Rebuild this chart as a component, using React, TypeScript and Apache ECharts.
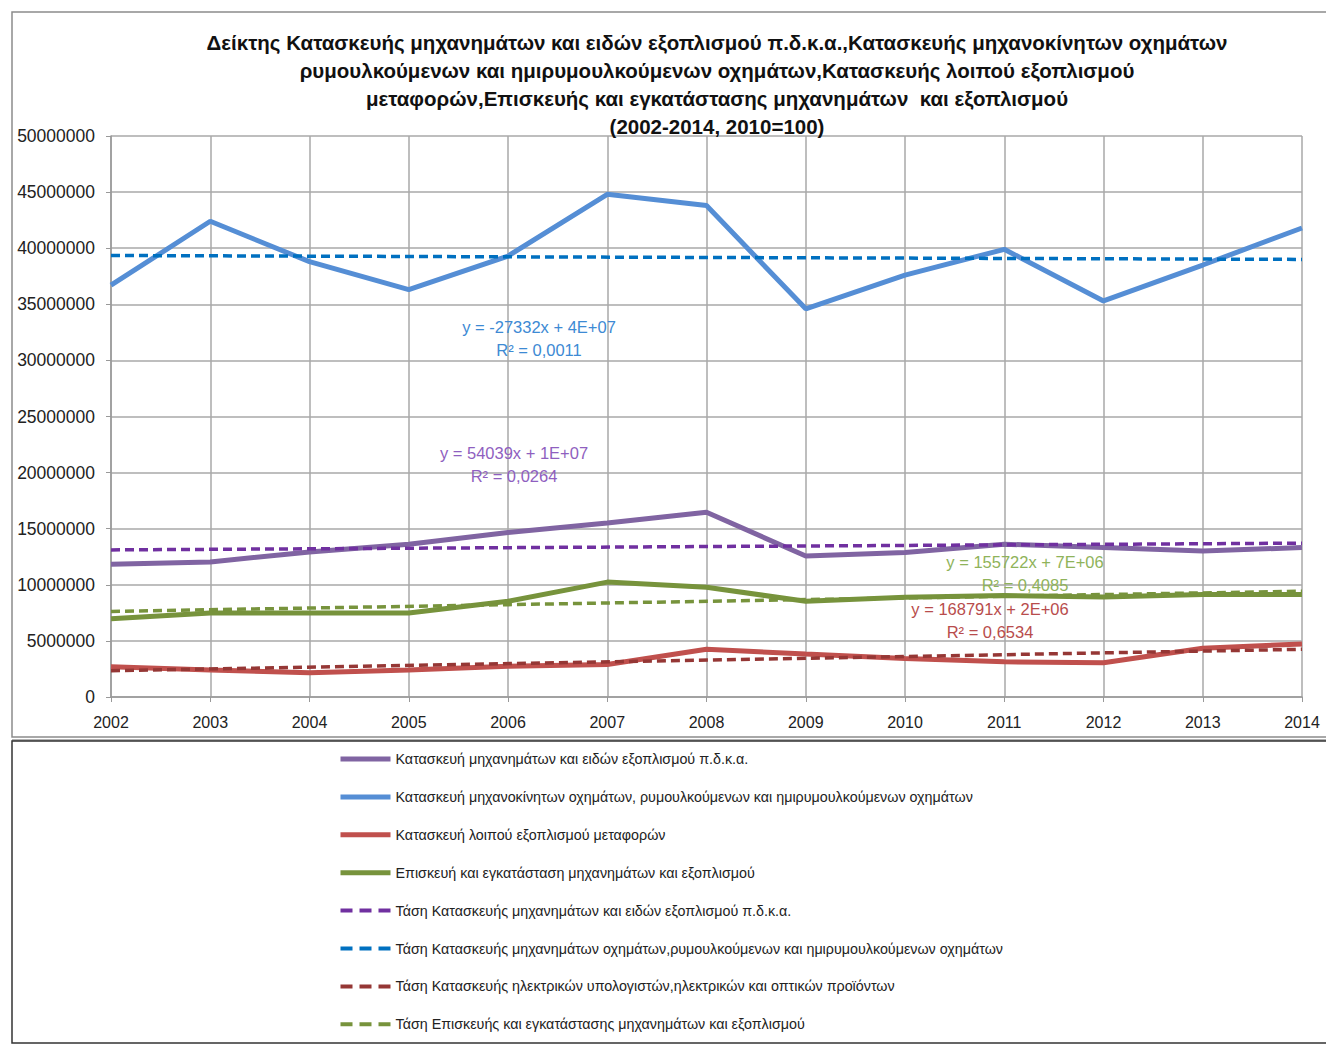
import React, { useEffect, useRef } from "react";
import * as echarts from "echarts";

const years = [2002, 2003, 2004, 2005, 2006, 2007, 2008, 2009, 2010, 2011, 2012, 2013, 2014];
const yTicks = { min: 0, max: 50000000, interval: 5000000 };

const machinery = [11.83, 12.04, 12.93, 13.62, 14.67, 15.51, 16.47, 12.57, 12.87, 13.62, 13.32, 13.02, 13.32];
const vehicles = [36.7, 42.4, 38.8, 36.3, 39.3, 44.8, 43.8, 34.6, 37.6, 39.9, 35.3, 38.5, 41.8];
const transport = [2.69, 2.4, 2.16, 2.4, 2.75, 2.9, 4.26, 3.83, 3.44, 3.14, 3.05, 4.34, 4.73];
const repair = [6.98, 7.49, 7.49, 7.49, 8.53, 10.24, 9.78, 8.53, 8.89, 9.04, 8.92, 9.13, 9.13];

// trend line endpoints (2002, 2014), millions
const trendMachinery = [13.11, 13.71];
const trendVehicles = [39.35, 39.0];
const trendTransport = [2.34, 4.25];
const trendRepair = [7.63, 9.43];

const names = [
  "Κατασκευή μηχανημάτων και ειδών εξοπλισμού π.δ.κ.α.",
  "Κατασκευή μηχανοκίνητων οχημάτων, ρυμουλκούμενων και ημιρυμουλκούμενων οχημάτων",
  "Κατασκευή λοιπού εξοπλισμού μεταφορών",
  "Επισκευή και εγκατάσταση μηχανημάτων και εξοπλισμού",
  "Τάση Κατασκευής μηχανημάτων και ειδών εξοπλισμού π.δ.κ.α.",
  "Τάση Κατασκευής μηχανημάτων οχημάτων,ρυμουλκούμενων και ημιρυμουλκούμενων οχημάτων",
  "Τάση Κατασκευής ηλεκτρικών υπολογιστών,ηλεκτρικών και οπτικών προϊόντων",
  "Τάση Επισκευής και εγκατάστασης μηχανημάτων και εξοπλισμού",
];

const titleLines = [
  "Δείκτης Κατασκευής μηχανημάτων και ειδών εξοπλισμού π.δ.κ.α.,Κατασκευής μηχανοκίνητων οχημάτων",
  "ρυμουλκούμενων και ημιρυμουλκούμενων οχημάτων,Κατασκευής λοιπού εξοπλισμού",
  "μεταφορών,Επισκευής και εγκατάστασης μηχανημάτων  και εξοπλισμού",
  "(2002-2014, 2010=100)",
];

const equations = [
  { eq: "y = -27332x + 4E+07", r2: "R² = 0,0011", color: "#3d8ad4", x: 539, y: 327 },
  { eq: "y = 54039x + 1E+07", r2: "R² = 0,0264", color: "#8f5fc0", x: 514, y: 453 },
  { eq: "y = 155722x + 7E+06", r2: "R² = 0,4085", color: "#8fb35a", x: 1025, y: 562 },
  { eq: "y = 168791x + 2E+06", r2: "R² = 0,6534", color: "#b84c4c", x: 990, y: 609 },
];

const FONT = "Liberation Sans";

function toPairs(vals: number[]) {
  return years.map((y, i) => [y, vals[i] * 1e6]);
}
function trendPairs(ends: number[]) {
  return [
    [years[0], ends[0] * 1e6],
    [years[years.length - 1], ends[1] * 1e6],
  ];
}

export default function App() {
  const ref = useRef<HTMLDivElement>(null);
  useEffect(() => {
    if (!ref.current) return;
    const chart = echarts.init(ref.current, null, { renderer: "svg" });
    const solid = (name: string, vals: number[], color: string) => ({
      name,
      type: "line",
      data: toPairs(vals),
      symbol: "none",
      lineStyle: { color, width: 5 },
      itemStyle: { color },
      z: 3,
    });
    const dashed = (name: string, ends: number[], color: string) => ({
      name,
      type: "line",
      data: trendPairs(ends),
      symbol: "none",
      lineStyle: { color, width: 3.5, type: [9, 5] },
      itemStyle: { color },
      z: 4,
    });
    const graphics: any[] = [
      { type: "rect", shape: { x: 12, y: 12, width: 1330, height: 725 }, style: { fill: "none", stroke: "#8c8c8c", lineWidth: 1.5 }, silent: true },
      { type: "line", shape: { x1: 12, y1: 740, x2: 1326, y2: 740 }, style: { stroke: "#9a9a9a", lineWidth: 1.5 }, silent: true },
      { type: "rect", shape: { x: 12, y: 741, width: 1330, height: 302 }, style: { fill: "none", stroke: "#333", lineWidth: 1.5 }, silent: true },
    ];
    equations.forEach((e) => {
      graphics.push({
        type: "text",
        x: e.x,
        y: e.y,
        style: { text: e.eq, fill: e.color, font: `16.5px "${FONT}"`, align: "center", verticalAlign: "middle" },
        z: 10,
      });
      graphics.push({
        type: "text",
        x: e.x,
        y: e.y + 23,
        style: { text: e.r2, fill: e.color, font: `16.5px "${FONT}"`, align: "center", verticalAlign: "middle" },
        z: 10,
      });
    });
    chart.setOption({
      animation: false,
      backgroundColor: "#fff",
      title: {
        text: titleLines.join("\n"),
        left: 712,
        top: 23,
        textAlign: "center",
        textStyle: { fontFamily: FONT, fontSize: 20.5, fontWeight: "bold", lineHeight: 28, color: "#111" },
      },
      grid: { left: 111, right: 24, top: 136, bottom: 348 },
      xAxis: {
        type: "value",
        min: years[0],
        max: years[years.length - 1],
        interval: 1,
        axisLine: { show: true, onZero: false, lineStyle: { color: "#999", width: 1.5 } },
        axisTick: { show: true, length: 5, lineStyle: { color: "#999" } },
        axisLabel: { fontFamily: FONT, fontSize: 16, color: "#222", margin: 17, formatter: (v: number) => String(v) },
        splitLine: { show: true, lineStyle: { color: "#a8a8a8", width: 1.5 } },
      },
      yAxis: {
        type: "value",
        ...yTicks,
        axisLine: { show: true, lineStyle: { color: "#999", width: 1.5 } },
        axisTick: { show: true, length: 5, lineStyle: { color: "#999" } },
        axisLabel: { fontFamily: FONT, fontSize: 17.5, color: "#222", margin: 16, formatter: (v: number) => String(v) },
        splitLine: { show: true, lineStyle: { color: "#a8a8a8", width: 1.5 } },
      },
      legend: {
        orient: "vertical",
        left: 338,
        top: 752,
        height: 290,
        padding: 0,
        itemWidth: 50,
        itemHeight: 14,
        itemGap: 23.9,
        itemStyle: { opacity: 0 },
        data: names.map((n, i) => ({
          name: n,
          lineStyle: i < 4 ? { width: 5 } : { width: 4, type: [12, 7] },
        })),
        textStyle: { fontFamily: FONT, fontSize: 14.3, color: "#222" },
      },
      graphic: graphics,
      series: [
        solid(names[0], machinery, "#8064a2"),
        solid(names[1], vehicles, "#558ed5"),
        solid(names[2], transport, "#c0504d"),
        solid(names[3], repair, "#77933c"),
        dashed(names[4], trendMachinery, "#7030a0"),
        dashed(names[5], trendVehicles, "#0070c0"),
        dashed(names[6], trendTransport, "#953735"),
        dashed(names[7], trendRepair, "#77933c"),
      ],
    });
    return () => chart.dispose();
  }, []);
  return <div ref={ref} style={{ position: "fixed", left: 0, top: 0, width: 1326, height: 1045 }} />;
}
